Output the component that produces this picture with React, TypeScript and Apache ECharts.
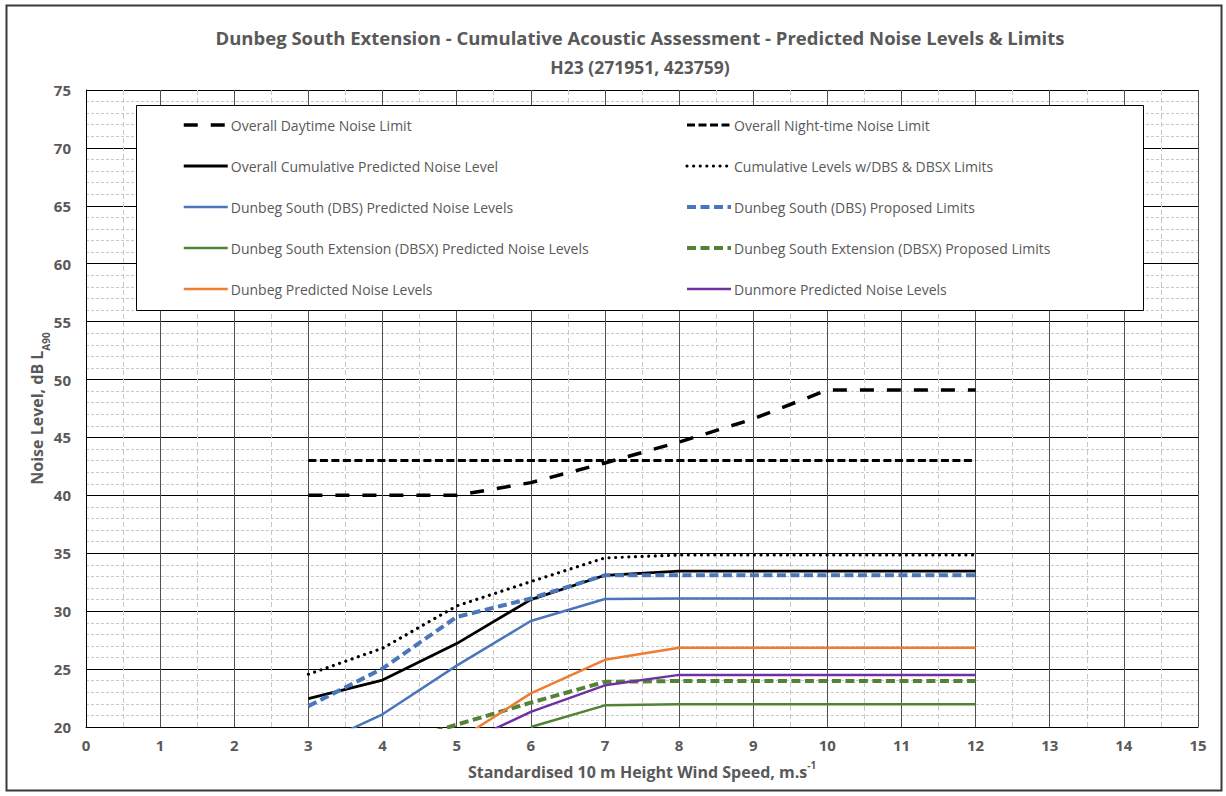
import React, { useEffect, useRef } from "react";
import * as echarts from "echarts";

const FONT = "'Open Sans', 'Noto Sans', sans-serif";
const GREY = "#595959";

const windSpeeds = [3, 4, 5, 6, 7, 8, 9, 10, 11, 12];
const daytimeLimit = [40, 40, 40, 41.1, 42.8, 44.6, 46.6, 49.1, 49.1, 49.1];
const nightLimit = [43, 43, 43, 43, 43, 43, 43, 43, 43, 43];
const cumulativePredicted = [22.45, 24.05, 27.2, 31.0, 33.1, 33.45, 33.45, 33.45, 33.45, 33.45];
const cumulativeWithLimits = [24.55, 26.8, 30.45, 32.55, 34.6, 34.85, 34.85, 34.85, 34.85, 34.85];
const dbsPredicted = [18.1, 21.1, 25.3, 29.15, 31.05, 31.1, 31.1, 31.1, 31.1, 31.1];
const dbsLimits = [21.8, 25.05, 29.5, 31.1, 33.1, 33.1, 33.1, 33.1, 33.1, 33.1];
const dbsxPredicted = [null, null, null, 20.0, 21.87, 21.96, 21.96, 21.96, 21.96, 21.96];
const dbsxLimits = [null, 18.2, 20.2, 22.1, 23.9, 23.97, 23.97, 23.97, 23.97, 23.97];
const dunbegPredicted = [null, null, 18.8, 22.9, 25.8, 26.85, 26.85, 26.85, 26.85, 26.85];
const dunmorePredicted = [null, null, 18.3, 21.3, 23.6, 24.5, 24.5, 24.5, 24.5, 24.5];

const seriesNames = [
  "Overall Daytime Noise Limit",
  "Overall Night-time Noise Limit",
  "Overall Cumulative Predicted Noise Level",
  "Cumulative Levels w/DBS & DBSX Limits",
  "Dunbeg South (DBS) Predicted Noise Levels",
  "Dunbeg South (DBS) Proposed Limits",
  "Dunbeg South Extension (DBSX) Predicted Noise Levels",
  "Dunbeg South Extension (DBSX) Proposed Limits",
  "Dunbeg Predicted Noise Levels",
  "Dunmore Predicted Noise Levels",
];

const seriesValues = [
  daytimeLimit,
  nightLimit,
  cumulativePredicted,
  cumulativeWithLimits,
  dbsPredicted,
  dbsLimits,
  dbsxPredicted,
  dbsxLimits,
  dunbegPredicted,
  dunmorePredicted,
];

const seriesStyles: any[] = [
  { color: "#000000", width: 3.5, type: [14, 13], cap: "butt" },
  { color: "#000000", width: 3, type: [8, 3.5], cap: "butt" },
  { color: "#000000", width: 2.8, type: "solid" },
  { color: "#000000", width: 3.2, type: [0.01, 6.6], cap: "round" },
  { color: "#4A76BC", width: 2.5, type: "solid" },
  { color: "#4A76BC", width: 4, type: [9, 4.5], cap: "butt" },
  { color: "#548235", width: 2.5, type: "solid" },
  { color: "#548235", width: 4, type: [9, 4.5], cap: "butt" },
  { color: "#ED7D31", width: 2.5, type: "solid" },
  { color: "#7030A0", width: 2.5, type: "solid" },
];

const xTicks = [0, 15];
const yTicks = [20, 75];

export default function App() {
  const ref = useRef<HTMLDivElement>(null);

  useEffect(() => {
    if (!ref.current) return;
    const chart = echarts.init(ref.current, undefined, { renderer: "svg" });

    const series = seriesNames.map((name, i) => ({
      name,
      type: "line",
      data: windSpeeds.map((x, j) => [x, seriesValues[i][j]]),
      symbol: "none",
      showSymbol: false,
      connectNulls: false,
      clip: true,
      z: 5 + i,
      lineStyle: { ...seriesStyles[i], join: "round" },
      itemStyle: { color: seriesStyles[i].color },
      emphasis: { disabled: true },
    }));

    const legendCommon = {
      orient: "vertical",
      top: 118,
      padding: 0,
      itemWidth: 44,
      itemHeight: 14,
      itemGap: 27,
      selectedMode: false,
      z: 20,
      itemStyle: { color: "transparent", borderWidth: 0, opacity: 0 },
      lineStyle: { width: "inherit", type: "inherit", cap: "inherit" },
      textStyle: { color: GREY, fontSize: 14, fontFamily: FONT, lineHeight: 14, padding: [0, 0, 0, -2] },
    };

    chart.setOption({
      animation: false,
      backgroundColor: "#ffffff",
      textStyle: { fontFamily: FONT },
      grid: { left: 86, right: 28, top: 90, bottom: 69, containLabel: false },
      legend: [
        {
          ...legendCommon,
          left: 182,
          data: [seriesNames[0], seriesNames[2], seriesNames[4], seriesNames[6], seriesNames[8]],
        },
        {
          ...legendCommon,
          left: 685,
          data: [seriesNames[1], seriesNames[3], seriesNames[5], seriesNames[7], seriesNames[9]],
        },
      ],
      graphic: [
        {
          type: "rect",
          z: 0,
          shape: { x: 6.5, y: 5.5, width: 1215, height: 785 },
          style: { fill: "none", stroke: "#3a3a3a", lineWidth: 2 },
        },
        {
          type: "rect",
          z: 15,
          shape: { x: 136.5, y: 105.5, width: 1007, height: 205 },
          style: { fill: "#ffffff", stroke: "#000000", lineWidth: 1 },
        },
        {
          type: "text",
          x: 640,
          y: 37,
          z: 20,
          style: {
            text: "Dunbeg South Extension - Cumulative Acoustic Assessment - Predicted Noise Levels & Limits",
            fill: GREY,
            font: `bold 18.5px ${FONT}`,
            textAlign: "center",
            textVerticalAlign: "middle",
          },
        },
        {
          type: "text",
          x: 640,
          y: 67,
          z: 20,
          style: {
            text: "H23 (271951, 423759)",
            fill: GREY,
            font: `bold 17.5px ${FONT}`,
            textAlign: "center",
            textVerticalAlign: "middle",
          },
        },
      ],
      xAxis: {
        type: "value",
        min: xTicks[0],
        max: xTicks[1],
        interval: 1,
        name: "{a|Standardised 10 m Height Wind Speed, m.s}{s|-1}",
        nameLocation: "middle",
        nameGap: 33,
        nameMoveOverlap: false,
        nameTextStyle: {
          rich: {
            a: { fontSize: 16, fontWeight: "bold", color: GREY, fontFamily: FONT, lineHeight: 20, verticalAlign: "bottom" },
            s: { fontSize: 10, fontWeight: "bold", color: GREY, fontFamily: FONT, lineHeight: 20, verticalAlign: "top" },
          },
        },
        axisLine: { show: true, lineStyle: { color: "#000000", width: 1 } },
        axisTick: { show: false },
        axisLabel: { color: GREY, fontSize: 15, fontWeight: "bold", margin: 10, fontFamily: FONT },
        splitLine: { show: true, lineStyle: { color: "#505050", width: 1 } },
        minorTick: { show: false, splitNumber: 2 },
        minorSplitLine: { show: true, lineStyle: { color: "#c8c8c8", width: 1, type: [5, 3] } },
      },
      yAxis: {
        type: "value",
        min: yTicks[0],
        max: yTicks[1],
        interval: 5,
        name: "{a|Noise Level, dB L}{s|A90}",
        nameLocation: "middle",
        nameGap: 35,
        nameMoveOverlap: false,
        nameRotate: 90,
        nameTextStyle: {
          rich: {
            a: { fontSize: 16, fontWeight: "bold", color: GREY, fontFamily: FONT, lineHeight: 22, verticalAlign: "top" },
            s: { fontSize: 10, fontWeight: "bold", color: GREY, fontFamily: FONT, lineHeight: 22, verticalAlign: "bottom" },
          },
        },
        axisLine: { show: true, lineStyle: { color: "#000000", width: 1 } },
        axisTick: { show: false },
        axisLabel: { color: GREY, fontSize: 15, fontWeight: "bold", margin: 15, fontFamily: FONT },
        splitLine: { show: true, lineStyle: { color: "#000000", width: 1 } },
        minorTick: { show: false, splitNumber: 5 },
        minorSplitLine: { show: true, lineStyle: { color: "#c8c8c8", width: 1, type: [3, 2] } },
      },
      series,
    });

    return () => chart.dispose();
  }, []);

  return (
    <div
      ref={ref}
      style={{ position: "fixed", left: 0, top: 0, width: 1226, height: 796, background: "#fff" }}
    />
  );
}
